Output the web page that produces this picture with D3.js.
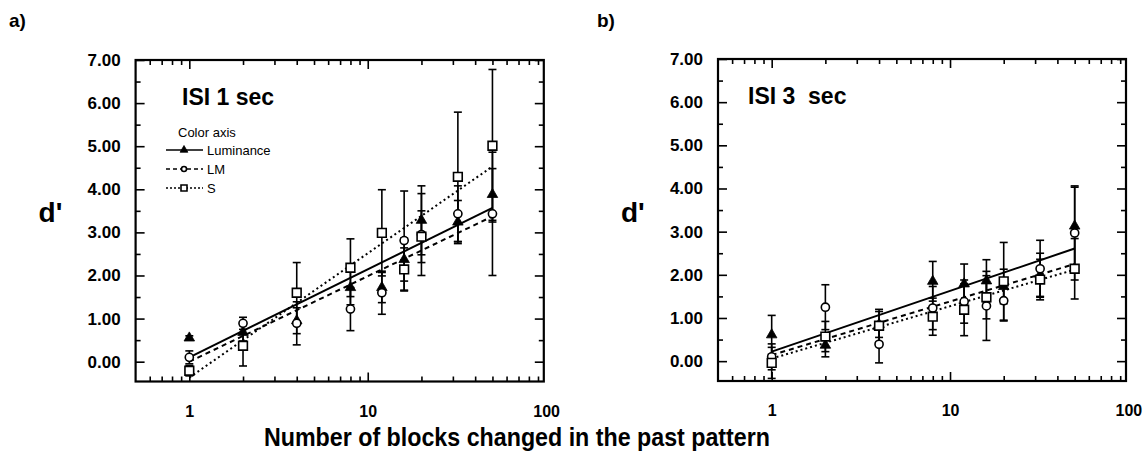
<!DOCTYPE html>
<html>
<head>
<meta charset="utf-8">
<script src="https://cdn.jsdelivr.net/npm/d3@7"></script>
<style>
body { margin: 0; background: #fff; }
text { font-family: "Liberation Sans", Arial, sans-serif; fill: #000; }
</style>
</head>
<body>
<svg id="chart" width="1143" height="451"></svg>
<script>
// Number of blocks changed (x values, log axis)
var blocks = [1, 2, 4, 8, 12, 16, 20, 32, 50];
var seriesNames = ["Luminance", "LM", "S"];

// Panel a) ISI 1 sec : d' and error
var lumA = [0.55, 0.68, 0.95, 1.72, 1.72, 2.37, 3.28, 3.24, 3.88];
var lumAErr = [0.05, 0.2, 0.3, 0.4, 0.35, 0.5, 0.8, 0.5, 0.6];
var lmA = [0.10, 0.89, 0.89, 1.22, 1.60, 2.81, 2.95, 3.43, 3.43];
var lmAErr = [0.15, 0.14, 0.5, 0.5, 0.5, 1.15, 0.95, 0.65, 1.43];
var sA = [-0.21, 0.37, 1.60, 2.18, 2.99, 2.14, 2.90, 4.29, 5.01];
var sAErr = [0.12, 0.47, 0.7, 0.67, 1.0, 0.5, 0.6, 1.5, 1.77];
// fitted lines, value at first and last block count
var fitA = [[0.10, 3.57], [0.0, 3.37], [-0.37, 4.53]];

// Panel b) ISI 3 sec
var lumB = [0.61, 0.37, 0.85, 1.85, 1.79, 1.86, 1.73, 2.0, 3.13];
var lumBErr = [0.45, 0.27, 0.3, 0.46, 0.46, 0.49, 0.4, 0.5, 0.9];
var lmB = [0.10, 1.25, 0.39, 1.23, 1.38, 1.28, 1.40, 2.14, 2.97];
var lmBErr = [0.3, 0.52, 0.43, 0.5, 0.5, 0.8, 0.47, 0.66, 1.09];
var sB = [-0.04, 0.57, 0.82, 1.03, 1.19, 1.48, 1.85, 1.89, 2.14];
var sBErr = [0.36, 0.35, 0.38, 0.43, 0.6, 0.5, 0.9, 0.47, 0.7];
var fitB = [[0.22, 2.61], [0.14, 2.25], [0.06, 2.12]];

// Ticks
var yTicks = [0, 1, 2, 3, 4, 5, 6, 7];
var yMinorTicks = [0.5, 1.5, 2.5, 3.5, 4.5, 5.5, 6.5];
var xTickLabels = [1, 10, 100];
var xMajorTicks = [1, 10];
var xMinorTicks = [0.6, 0.7, 0.8, 0.9, 2, 3, 4, 5, 6, 7, 8, 9, 20, 30, 40, 50, 60, 70, 80, 90];

var svg = d3.select("#chart");
var dashes = ["none", "5,4", "2,3"];

function drawPanel(p) {
    var x = d3.scaleLog().domain([0.5, 97]).range([p.left, p.right]);
    var y = d3.scaleLinear().domain([-0.46, 7]).range([p.bottom, p.top]);
    var g = svg.append("g");

    // minor / major ticks on all four sides (pointing inward)
    var bottomY = "translate(0," + p.bottom + ")";
    var topY = "translate(0," + p.top + ")";
    g.append("g").attr("transform", bottomY)
        .call(d3.axisBottom(x).tickValues(xMinorTicks).tickSize(-5).tickFormat(""));
    g.append("g").attr("transform", bottomY)
        .call(d3.axisBottom(x).tickValues(xMajorTicks).tickSize(-9).tickFormat(""));
    g.append("g").attr("transform", topY)
        .call(d3.axisTop(x).tickValues(xMinorTicks).tickSize(-5).tickFormat(""));
    g.append("g").attr("transform", topY)
        .call(d3.axisTop(x).tickValues(xMajorTicks).tickSize(-9).tickFormat(""));
    g.append("g").attr("transform", "translate(" + p.left + ",0)")
        .call(d3.axisLeft(y).tickValues(yMinorTicks).tickSize(-5).tickFormat(""));
    g.append("g").attr("transform", "translate(" + p.right + ",0)")
        .call(d3.axisRight(y).tickValues(yMinorTicks).tickSize(-5).tickFormat(""));
    g.append("g").attr("transform", "translate(" + p.right + ",0)")
        .call(d3.axisRight(y).tickValues(yTicks).tickSize(-9).tickFormat(""));

    // left axis with labels
    var yAxis = g.append("g").attr("transform", "translate(" + p.left + ",0)")
        .call(d3.axisLeft(y).tickValues(yTicks).tickSize(-9).tickPadding(15)
            .tickFormat(d3.format(".2f")));
    yAxis.selectAll("text").style("font-size", "17px").style("font-weight", "bold")
        .style("font-family", "'Liberation Sans', Arial, sans-serif");

    // bottom labels far below the frame
    var xLab = g.append("g").attr("transform", bottomY)
        .call(d3.axisBottom(x).tickValues(xTickLabels).tickSize(0).tickPadding(24)
            .tickFormat(d3.format("d")));
    xLab.select(".domain").remove();
    xLab.selectAll("text").style("font-size", "16px").style("font-weight", "bold")
        .style("font-family", "'Liberation Sans', Arial, sans-serif");

    g.selectAll(".domain").attr("stroke", "none");
    g.selectAll(".tick line").attr("stroke", "#000").attr("stroke-width", 1.6);

    // frame
    g.append("rect").attr("x", p.left).attr("y", p.top)
        .attr("width", p.right - p.left).attr("height", p.bottom - p.top)
        .attr("fill", "none").attr("stroke", "#000").attr("stroke-width", 2.2);

    // fitted lines
    p.fits.forEach(function(f, i) {
        g.append("line")
            .attr("x1", x(blocks[0])).attr("y1", y(f[0]))
            .attr("x2", x(blocks[blocks.length - 1])).attr("y2", y(f[1]))
            .attr("stroke", "#000").attr("stroke-width", 2)
            .attr("stroke-dasharray", dashes[i]);
    });

    // error bars
    p.series.forEach(function(s) {
        var eb = g.append("g").selectAll("g").data(s.values).enter().append("g");
        eb.append("line")
            .attr("x1", function(d, i) { return x(blocks[i]); })
            .attr("x2", function(d, i) { return x(blocks[i]); })
            .attr("y1", function(d, i) { return y(d - s.err[i]); })
            .attr("y2", function(d, i) { return y(d + s.err[i]); })
            .attr("stroke", "#000").attr("stroke-width", 1.6);
        [-1, 1].forEach(function(sign) {
            eb.append("line")
                .attr("x1", function(d, i) { return x(blocks[i]) - 4; })
                .attr("x2", function(d, i) { return x(blocks[i]) + 4; })
                .attr("y1", function(d, i) { return y(d + sign * s.err[i]); })
                .attr("y2", function(d, i) { return y(d + sign * s.err[i]); })
                .attr("stroke", "#000").attr("stroke-width", 1.6);
        });
    });

    // markers
    p.series.forEach(function(s, k) {
        var m = g.append("g").selectAll("path").data(s.values).enter().append("path")
            .attr("transform", function(d, i) {
                return "translate(" + x(blocks[i]) + "," + y(d) + ")";
            });
        styleMarker(m, k);
    });

    // panel title
    g.append("text").attr("x", p.titleX).attr("y", p.top + 45)
        .attr("xml:space", "preserve").style("white-space", "pre")
        .style("font-size", "23px").style("font-weight", "bold")
        .text(p.title);

    // d' label
    g.append("text").attr("x", p.left - 97).attr("y", 222)
        .style("font-size", "28px").style("font-weight", "bold")
        .text("d'");

    // panel letter
    g.append("text").attr("x", p.letterX).attr("y", 27)
        .style("font-size", "19px").style("font-weight", "bold")
        .text(p.letter);

    return { x: x, y: y, g: g };
}

function styleMarker(sel, k) {
    if (k === 0) {
        sel.attr("d", d3.symbol().type(d3.symbolTriangle).size(48))
            .attr("fill", "#000").attr("stroke", "#000").attr("stroke-width", 0.8);
    } else if (k === 1) {
        sel.attr("d", d3.symbol().type(d3.symbolCircle).size(52))
            .attr("fill", "#fff").attr("stroke", "#000").attr("stroke-width", 1.6);
    } else {
        sel.attr("d", d3.symbol().type(d3.symbolSquare).size(76))
            .attr("fill", "#fff").attr("stroke", "#000").attr("stroke-width", 1.6);
    }
}

drawPanel({
    left: 135.6, right: 543.8, top: 60, bottom: 381.5,
    title: "ISI 1 sec", titleX: 182, letter: "a)", letterX: 9,
    fits: fitA,
    series: [
        { values: lumA, err: lumAErr },
        { values: lmA, err: lmAErr },
        { values: sA, err: sAErr }
    ]
});

drawPanel({
    left: 718, right: 1126, top: 59, bottom: 381,
    title: "ISI 3  sec", titleX: 748, letter: "b)", letterX: 597,
    fits: fitB,
    series: [
        { values: lumB, err: lumBErr },
        { values: lmB, err: lmBErr },
        { values: sB, err: sBErr }
    ]
});

// legend in panel a
var legend = svg.append("g");
legend.append("text").attr("x", 178).attr("y", 137)
    .style("font-size", "13px").text("Color axis");
seriesNames.forEach(function(name, i) {
    var ly = 150 + i * 19;
    legend.append("line").attr("x1", 166).attr("x2", 203).attr("y1", ly).attr("y2", ly)
        .attr("stroke", "#000").attr("stroke-width", 1.6)
        .attr("stroke-dasharray", ["none", "4,3", "2,2"][i]);
    var mk = legend.append("path").attr("transform", "translate(184," + ly + ")");
    styleMarker(mk, i);
    if (i === 0) mk.attr("d", d3.symbol().type(d3.symbolTriangle).size(26));
    if (i === 1) mk.attr("d", d3.symbol().type(d3.symbolCircle).size(20));
    if (i === 2) mk.attr("d", d3.symbol().type(d3.symbolSquare).size(36));
    legend.append("text").attr("x", 207).attr("y", ly + 5)
        .style("font-size", "13px").text(name);
});

// shared x-axis title
svg.append("text").attr("x", 264).attr("y", 446)
    .attr("textLength", 506).attr("lengthAdjust", "spacingAndGlyphs")
    .style("font-size", "25px").style("font-weight", "bold")
    .text("Number of blocks changed in the past pattern");
</script>
</body>
</html>
